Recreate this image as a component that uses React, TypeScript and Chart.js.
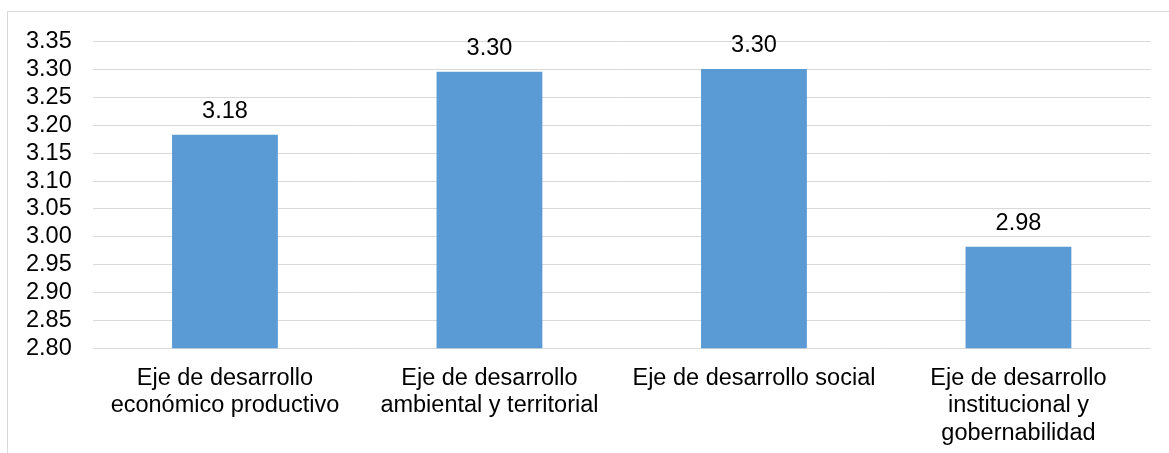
import React, { useEffect, useRef } from "react";
import { Chart, registerables } from "chart.js";

Chart.register(...registerables);

// Categories (each entry is one wrapped axis label)
const categories: string[][] = [
  ["Eje de desarrollo", "económico productivo"],
  ["Eje de desarrollo", "ambiental y territorial"],
  ["Eje de desarrollo social"],
  ["Eje de desarrollo", "institucional y", "gobernabilidad"],
];

// Average score per axis
const scores: number[] = [3.183, 3.296, 3.301, 2.982];

// Value axis range
const yMin = 2.8;
const yMax = 3.35;
const yStep = 0.05;

const FONT_FAMILY = "'Liberation Sans', Arial, sans-serif";
const FONT_SIZE = 23.5;
const BAR_COLOR = "#5b9bd5";
const GRID_COLOR = "#d9d9d9";

// Writes each bar's value above it
const valueLabels = {
  id: "valueLabels",
  afterDatasetsDraw(chart: any) {
    const { ctx } = chart;
    const meta = chart.getDatasetMeta(0);
    const data = chart.data.datasets[0].data as number[];
    ctx.save();
    ctx.font = `${FONT_SIZE}px ${FONT_FAMILY}`;
    ctx.fillStyle = "#000";
    ctx.textAlign = "center";
    ctx.textBaseline = "alphabetic";
    meta.data.forEach((bar: any, i: number) => {
      ctx.fillText(data[i].toFixed(2), bar.x, bar.y - 17);
    });
    ctx.restore();
  },
};

export default function App() {
  const canvasRef = useRef<HTMLCanvasElement | null>(null);

  useEffect(() => {
    if (!canvasRef.current) return;
    const chart = new Chart(canvasRef.current, {
      type: "bar",
      data: {
        labels: categories,
        datasets: [
          {
            data: scores,
            backgroundColor: BAR_COLOR,
            borderWidth: 0,
            categoryPercentage: 1,
            barPercentage: 0.4,
          },
        ],
      },
      options: {
        responsive: false,
        animation: false,
        layout: {
          padding: { top: 41.7, right: 18.3, bottom: 0, left: 0 },
        },
        plugins: {
          legend: { display: false },
          tooltip: { enabled: false },
        },
        scales: {
          x: {
            grid: { display: false, drawTicks: false },
            border: { display: false },
            ticks: {
              color: "#000",
              padding: 16,
              maxRotation: 0,
              autoSkip: false,
              font: { family: FONT_FAMILY, size: FONT_SIZE, lineHeight: 1.18 },
            },
            afterFit(scale: any) {
              scale.height = 104.7;
            },
          },
          y: {
            min: yMin,
            max: yMax,
            grid: { color: GRID_COLOR, lineWidth: 1, drawTicks: false },
            border: { display: false },
            ticks: {
              stepSize: yStep,
              autoSkip: false,
              color: "#000",
              padding: 21,
              font: { family: FONT_FAMILY, size: FONT_SIZE, lineHeight: 1.18 },
              callback: (v: any) => Number(v).toFixed(2),
            },
            afterFit(scale: any) {
              scale.width = 92.7;
            },
          },
        },
      },
      plugins: [valueLabels],
    });
    return () => chart.destroy();
  }, []);

  return (
    <div
      style={{
        position: "fixed",
        left: 0,
        top: 0,
        width: 1169,
        height: 453,
        background: "#fff",
        overflow: "hidden",
      }}
    >
      <div
        style={{
          position: "absolute",
          left: 7,
          top: 11,
          width: 1200,
          height: 500,
          borderTop: `1px solid ${GRID_COLOR}`,
          borderLeft: `1px solid ${GRID_COLOR}`,
        }}
      />
      <canvas
        ref={canvasRef}
        width={1169}
        height={453}
        style={{ position: "absolute", left: 0, top: 0 }}
      />
    </div>
  );
}
